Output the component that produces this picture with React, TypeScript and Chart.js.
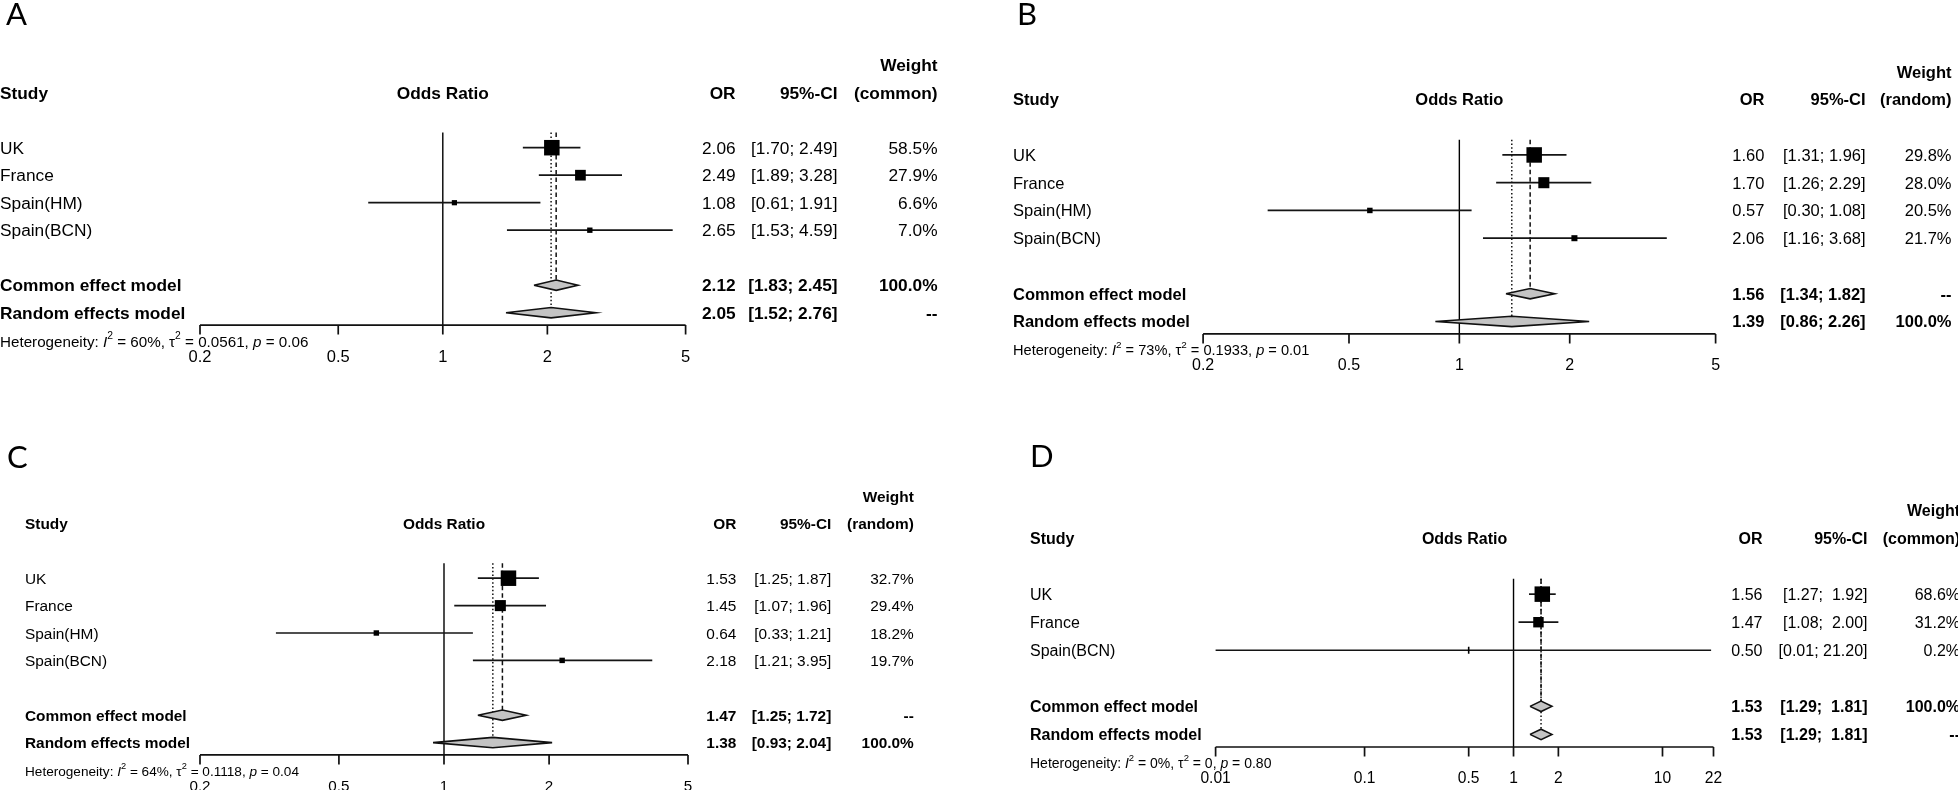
import React, { useEffect, useRef } from "react";
import { Chart, registerables } from "chart.js";

Chart.register(...registerables);

// ---------------- Panel A ----------------
const A_studies = ["UK", "France", "Spain(HM)", "Spain(BCN)"];
const A_or = [2.06, 2.49, 1.08, 2.65];
const A_lower = [1.7, 1.89, 0.61, 1.53];
const A_upper = [2.49, 3.28, 1.91, 4.59];
const A_weight = ["58.5%", "27.9%", "6.6%", "7.0%"];
const A_boxWeight = [58.5, 27.9, 6.6, 7.0];
const A_pooledOr = [2.12, 2.05];
const A_pooledLower = [1.83, 1.52];
const A_pooledUpper = [2.45, 2.76];
const A_pooledWeight = ["100.0%", "--"];
const A_het = ["60%", "0.0561", "0.06"];
const A_ticks = [0.2, 0.5, 1, 2, 5];
const A_weightType = "(common)";

// ---------------- Panel B ----------------
const B_studies = ["UK", "France", "Spain(HM)", "Spain(BCN)"];
const B_or = [1.6, 1.7, 0.57, 2.06];
const B_lower = [1.31, 1.26, 0.3, 1.16];
const B_upper = [1.96, 2.29, 1.08, 3.68];
const B_weight = ["29.8%", "28.0%", "20.5%", "21.7%"];
const B_boxWeight = [56, 28.5, 7, 8.5];
const B_pooledOr = [1.56, 1.39];
const B_pooledLower = [1.34, 0.86];
const B_pooledUpper = [1.82, 2.26];
const B_pooledWeight = ["--", "100.0%"];
const B_het = ["73%", "0.1933", "0.01"];
const B_ticks = [0.2, 0.5, 1, 2, 5];
const B_weightType = "(random)";

// ---------------- Panel C ----------------
const C_studies = ["UK", "France", "Spain(HM)", "Spain(BCN)"];
const C_or = [1.53, 1.45, 0.64, 2.18];
const C_lower = [1.25, 1.07, 0.33, 1.21];
const C_upper = [1.87, 1.96, 1.21, 3.95];
const C_weight = ["32.7%", "29.4%", "18.2%", "19.7%"];
const C_boxWeight = [57, 29, 7, 7];
const C_pooledOr = [1.47, 1.38];
const C_pooledLower = [1.25, 0.93];
const C_pooledUpper = [1.72, 2.04];
const C_pooledWeight = ["--", "100.0%"];
const C_het = ["64%", "0.1118", "0.04"];
const C_ticks = [0.2, 0.5, 1, 2, 5];
const C_weightType = "(random)";

// ---------------- Panel D ----------------
const D_studies = ["UK", "France", "Spain(BCN)"];
const D_or = [1.56, 1.47, 0.5];
const D_lower = [1.27, 1.08, 0.01];
const D_upper = [1.92, 2.0, 21.2];
const D_weight = ["68.6%", "31.2%", "0.2%"];
const D_boxWeight = [68.6, 31.2, 0.2];
const D_pooledOr = [1.53, 1.53];
const D_pooledLower = [1.29, 1.29];
const D_pooledUpper = [1.81, 1.81];
const D_pooledWeight = ["100.0%", "--"];
const D_het = ["0%", "0", "0.80"];
const D_ticks = [0.01, 0.1, 0.5, 1, 2, 10, 22];
const D_weightType = "(common)";

const POOLED_LABELS = ["Common effect model", "Random effects model"];
const HEADERS = ["Study", "Odds Ratio", "OR", "95%-CI", "Weight"];

// ---------------- layout (positions only) ----------------
const LAYOUT = {
  A: { left: 0, top: 0, w: 979, h: 395, letterX: 6, letterBase: 25, axisL: 200, axisR: 685.6, y0: 65.2, rowH: 27.5, studyX: 0, orR: 735.6, ciR: 837.5, wR: 937.5, font: 17.3, tick: 16.5, het: 15.2 },
  B: { left: 979, top: 0, w: 979, h: 395, letterX: 1017, letterBase: 25, axisL: 1203.1, axisR: 1715.6, y0: 71.7, rowH: 27.75, studyX: 1013, orR: 1764.4, ciR: 1865.6, wR: 1951.5, font: 16.5, tick: 16, het: 14.6 },
  C: { left: 0, top: 395, w: 979, h: 395, letterX: 7, letterBase: 468, axisL: 200, axisR: 688, y0: 496, rowH: 27.4, studyX: 25, orR: 736.3, ciR: 831.3, wR: 913.8, font: 15.4, tick: 15.2, het: 13.6 },
  D: { left: 979, top: 395, w: 979, h: 395, letterX: 1030, letterBase: 467, axisL: 1215.6, axisR: 1713.5, y0: 510, rowH: 28.05, studyX: 1030, orR: 1762.5, ciR: 1867.5, wR: 1960, font: 16, tick: 15.6, het: 14 },
};

const PANELS = [
  { letter: "A", studies: A_studies, or: A_or, lower: A_lower, upper: A_upper, weight: A_weight, boxWeight: A_boxWeight, pooledOr: A_pooledOr, pooledLower: A_pooledLower, pooledUpper: A_pooledUpper, pooledWeight: A_pooledWeight, het: A_het, ticks: A_ticks, weightType: A_weightType, layout: LAYOUT.A },
  { letter: "B", studies: B_studies, or: B_or, lower: B_lower, upper: B_upper, weight: B_weight, boxWeight: B_boxWeight, pooledOr: B_pooledOr, pooledLower: B_pooledLower, pooledUpper: B_pooledUpper, pooledWeight: B_pooledWeight, het: B_het, ticks: B_ticks, weightType: B_weightType, layout: LAYOUT.B },
  { letter: "C", studies: C_studies, or: C_or, lower: C_lower, upper: C_upper, weight: C_weight, boxWeight: C_boxWeight, pooledOr: C_pooledOr, pooledLower: C_pooledLower, pooledUpper: C_pooledUpper, pooledWeight: C_pooledWeight, het: C_het, ticks: C_ticks, weightType: C_weightType, layout: LAYOUT.C },
  { letter: "D", studies: D_studies, or: D_or, lower: D_lower, upper: D_upper, weight: D_weight, boxWeight: D_boxWeight, pooledOr: D_pooledOr, pooledLower: D_pooledLower, pooledUpper: D_pooledUpper, pooledWeight: D_pooledWeight, het: D_het, ticks: D_ticks, weightType: D_weightType, layout: LAYOUT.D },
];

const FAM = '"Liberation Sans", Arial, Helvetica, sans-serif';
const MAX_BOX = 15.5;

function ciStrings(lo: number[], hi: number[]) {
  const los = lo.map((v) => v.toFixed(2));
  const his = hi.map((v) => v.toFixed(2));
  const wl = Math.max(...los.map((s) => s.length));
  const wh = Math.max(...his.map((s) => s.length));
  return los.map((l, i) => `[${l.padStart(wl)}; ${his[i].padStart(wh)}]`);
}

function rowsOf(p: any) {
  const n = p.studies.length;
  const studyRows = p.studies.map((_: string, i: number) => 3 + i);
  const pooledRows = [3 + n + 1, 3 + n + 2];
  const axisRow = pooledRows[1] + 0.45;
  return { studyRows, pooledRows, axisRow, topRow: 2.45 };
}

function makePlugin(p: any) {
  return {
    id: "forestDecor" + p.letter,
    afterDraw(chart: any) {
      const { ctx, chartArea } = chart;
      const xs = chart.scales.x;
      const ys = chart.scales.y;
      const L = p.layout;
      const X = (v: number) => v - L.left;
      const { studyRows, pooledRows } = rowsOf(p);
      const f = L.font;
      const put = (s: string, x: number, y: number, align: string, size: number, style = "") => {
        ctx.font = `${style} ${size}px ${FAM}`.trim();
        ctx.textAlign = align;
        ctx.textBaseline = "alphabetic";
        ctx.fillText(s, x, y + 0.36 * size);
      };
      ctx.save();
      ctx.fillStyle = "#000";

      // panel letter
      ctx.font = `31px Lato, "Open Sans", sans-serif`;
      ctx.textAlign = "left";
      ctx.textBaseline = "alphabetic";
      ctx.fillText(p.letter, X(L.letterX), L.letterBase - L.top);

      // headers
      const r0 = ys.getPixelForValue(0);
      const r1 = ys.getPixelForValue(1);
      put(HEADERS[4], X(L.wR), r0, "right", f, "bold");
      put(HEADERS[0], X(L.studyX), r1, "left", f, "bold");
      put(HEADERS[1], (chartArea.left + chartArea.right) / 2, r1, "center", f, "bold");
      put(HEADERS[2], X(L.orR), r1, "right", f, "bold");
      put(HEADERS[3], X(L.ciR), r1, "right", f, "bold");
      put(p.weightType, X(L.wR), r1, "right", f, "bold");

      // table rows
      const ci = ciStrings([...p.lower, ...p.pooledLower], [...p.upper, ...p.pooledUpper]);
      p.studies.forEach((s: string, i: number) => {
        const y = ys.getPixelForValue(studyRows[i]);
        put(s, X(L.studyX), y, "left", f);
        put(p.or[i].toFixed(2), X(L.orR), y, "right", f);
        put(ci[i], X(L.ciR), y, "right", f);
        put(p.weight[i], X(L.wR), y, "right", f);
      });
      POOLED_LABELS.forEach((s, j) => {
        const y = ys.getPixelForValue(pooledRows[j]);
        put(s, X(L.studyX), y, "left", f, "bold");
        put(p.pooledOr[j].toFixed(2), X(L.orR), y, "right", f, "bold");
        put(ci[p.studies.length + j], X(L.ciR), y, "right", f, "bold");
        put(p.pooledWeight[j], X(L.wR), y, "right", f, "bold");
      });

      // x axis
      const ay = chartArea.bottom;
      const t0 = p.ticks[0];
      const t1 = p.ticks[p.ticks.length - 1];
      ctx.strokeStyle = "#111";
      ctx.lineWidth = 1.7;
      ctx.beginPath();
      ctx.moveTo(xs.getPixelForValue(t0), ay);
      ctx.lineTo(xs.getPixelForValue(t1), ay);
      p.ticks.forEach((t: number) => {
        const tx = xs.getPixelForValue(t);
        ctx.moveTo(tx, ay);
        ctx.lineTo(tx, ay + 9.5);
      });
      ctx.stroke();
      p.ticks.forEach((t: number) => put(String(t), xs.getPixelForValue(t), ay + 30.5, "center", L.tick));

      // heterogeneity
      let hx = X(L.studyX);
      const hs = L.het;
      const hy = ay + 16 + 0.36 * hs;
      const seg = (s: string, style = "", size = hs, dy = 0) => {
        ctx.font = `${style} ${size}px ${FAM}`.trim();
        ctx.textAlign = "left";
        ctx.fillText(s, hx, hy - dy);
        hx += ctx.measureText(s).width;
      };
      seg("Heterogeneity: ");
      seg("I", "italic");
      seg("2", "", hs * 0.68, hs * 0.48);
      seg(` = ${p.het[0]}, `);
      seg("\u03c4");
      seg("2", "", hs * 0.68, hs * 0.48);
      seg(` = ${p.het[1]}, `);
      seg("p", "italic");
      seg(` = ${p.het[2]}`);
      ctx.restore();
    },
  };
}

function buildConfig(p: any) {
  const L = p.layout;
  const { studyRows, pooledRows, axisRow, topRow } = rowsOf(p);
  const axisY = L.y0 + axisRow * L.rowH;
  const maxW = Math.max(...p.boxWeight);
  const sides = p.boxWeight.map((w: number) => MAX_BOX * Math.sqrt(w / maxW));
  const tiny = sides.map((s: number) => s < 3);
  const dh = 5.2 / L.rowH;
  const lineBase = { showLine: true, pointRadius: 0, pointHoverRadius: 0, fill: false, clip: false, tension: 0 };

  const datasets: any[] = [];
  // null-effect line
  datasets.push({ ...lineBase, data: [{ x: 1, y: topRow }, { x: 1, y: axisRow }], borderColor: "#000", borderWidth: 1.4, order: 6 });
  // common effect (dashed) and random effects (dotted) reference lines
  datasets.push({ ...lineBase, data: [{ x: p.pooledOr[0], y: topRow }, { x: p.pooledOr[0], y: pooledRows[0] }], borderColor: "#111", borderWidth: 1.5, borderDash: [4.5, 3], order: 5 });
  datasets.push({ ...lineBase, data: [{ x: p.pooledOr[1], y: topRow }, { x: p.pooledOr[1], y: pooledRows[1] }], borderColor: "#111", borderWidth: 1.5, borderDash: [1.5, 2.3], order: 5 });
  // confidence intervals
  p.studies.forEach((_: string, i: number) => {
    datasets.push({ ...lineBase, data: [{ x: p.lower[i], y: studyRows[i] }, { x: p.upper[i], y: studyRows[i] }], borderColor: "#141414", borderWidth: 1.7, order: 3 });
  });
  // study boxes
  datasets.push({
    data: p.studies.map((_: string, i: number) => ({ x: p.or[i], y: studyRows[i] })),
    pointStyle: tiny.map((t: boolean) => (t ? "line" : "rect")),
    pointRotation: tiny.map((t: boolean) => (t ? 90 : 0)),
    pointRadius: sides.map((s: number, i: number) => (tiny[i] ? 3.5 : s / Math.SQRT2)),
    pointHoverRadius: sides.map((s: number, i: number) => (tiny[i] ? 3.5 : s / Math.SQRT2)),
    pointBorderWidth: tiny.map((t: boolean) => (t ? 1.6 : 0)),
    pointBackgroundColor: "#000",
    pointBorderColor: "#000",
    clip: false,
    order: 1,
  });
  // pooled diamonds
  [0, 1].forEach((j) => {
    const r = pooledRows[j];
    datasets.push({
      ...lineBase,
      data: [
        { x: p.pooledLower[j], y: r },
        { x: p.pooledOr[j], y: r - dh },
        { x: p.pooledUpper[j], y: r },
        { x: p.pooledOr[j], y: r + dh },
        { x: p.pooledLower[j], y: r },
      ],
      fill: "shape",
      backgroundColor: "#c4c4c4",
      borderColor: "#111",
      borderWidth: 1.6,
      order: 0,
    });
  });

  return {
    type: "scatter",
    data: { datasets },
    options: {
      animation: false,
      responsive: false,
      devicePixelRatio: 1,
      events: [],
      layout: {
        padding: {
          left: L.axisL - L.left,
          right: L.left + L.w - L.axisR,
          top: L.y0 - L.top,
          bottom: L.top + L.h - axisY,
        },
      },
      plugins: { legend: { display: false }, tooltip: { enabled: false }, title: { display: false } },
      scales: {
        x: { type: "logarithmic", min: p.ticks[0], max: p.ticks[p.ticks.length - 1], display: false },
        y: { type: "linear", min: 0, max: axisRow, reverse: true, display: false },
      },
    },
    plugins: [makePlugin(p)],
  };
}

function ForestPanel({ p }: { p: any }) {
  const ref = useRef<HTMLCanvasElement>(null);
  useEffect(() => {
    const chart = new Chart(ref.current as HTMLCanvasElement, buildConfig(p) as any);
    return () => chart.destroy();
  }, [p]);
  const L = p.layout;
  return (
    <canvas
      ref={ref}
      width={L.w}
      height={L.h}
      style={{ position: "absolute", left: L.left, top: L.top, width: L.w + "px", height: L.h + "px" }}
    />
  );
}

export default function App() {
  return (
    <div style={{ position: "fixed", left: 0, top: 0, width: 1958, height: 790, background: "#fff", overflow: "hidden" }}>
      {PANELS.map((p) => (
        <ForestPanel key={p.letter} p={p} />
      ))}
    </div>
  );
}
